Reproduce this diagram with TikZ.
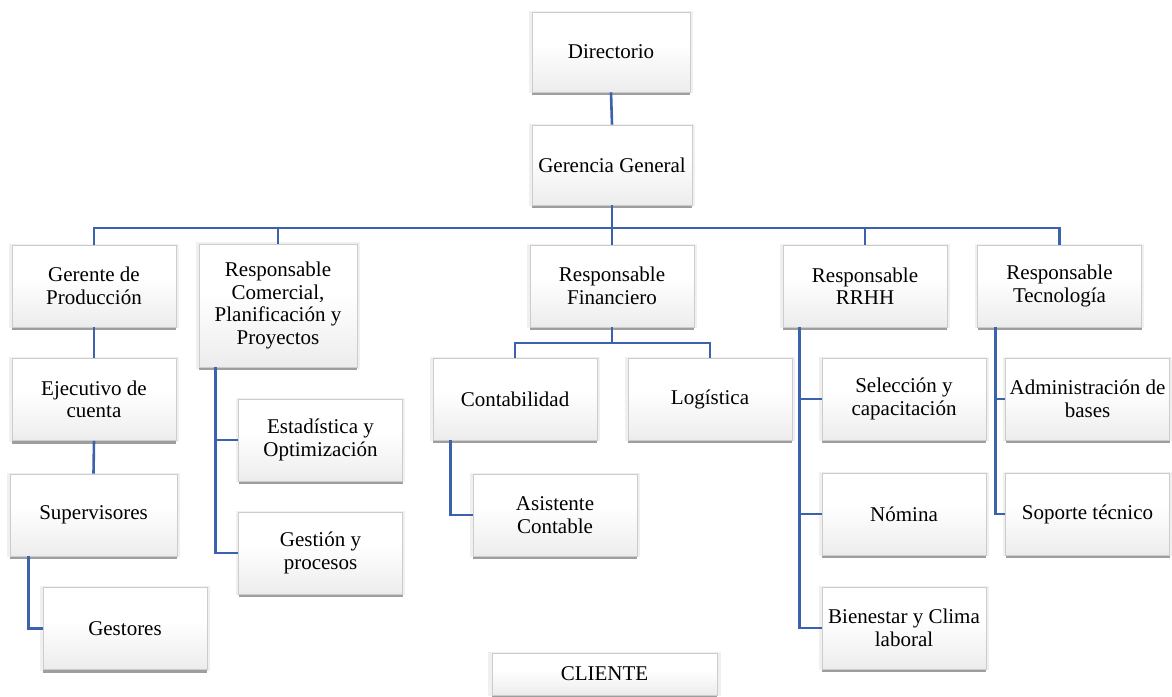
\documentclass[tikz,border=0pt]{standalone}
\usepackage{fontspec}
\setmainfont{Liberation Serif}
\newfontfamily\letracaja{Liberation Serif}
\usepackage{xcolor}
\usetikzlibrary{shadows}
\usetikzlibrary{positioning}
\definecolor{lineaazul}{RGB}{59,98,172}
\pgfdeclareverticalshading{cajagris}{100bp}{color(0bp)=(black!16); color(30bp)=(black!6); color(55bp)=(white); color(100bp)=(white)}
\tikzset{
  caja/.style={rectangle, draw=black!20, line width=0.6pt, shading=cajagris,
    minimum width=164pt, minimum height=82pt, align=center, inner sep=2pt,
    font=\letracaja\fontsize{21}{22.5}\selectfont,
    general shadow={shadow scale=1.035, fill=black!6},
    general shadow={shadow yshift=-3pt, fill=black!38}},
  linea/.style={draw=lineaazul, line width=2.6pt}
}
\begin{document}
\begin{tikzpicture}[x=1pt, y=-1pt]
\useasboundingbox (0,0) rectangle (1172,696);
\coordinate (barra) at (0,228);
\coordinate (fbarra) at (0,343);

\node[caja, minimum width=158pt, minimum height=80pt] (dir) at (611,52) {Directorio};
\node[caja, minimum width=160pt, minimum height=80pt] (gg) at (612,165) {Gerencia General};

\node[caja] (ger) at (94,286) {Gerente de\\Producción};
\node[caja, minimum width=158pt, minimum height=123pt] (com) at (278,305.5) {Responsable\\Comercial,\\Planificación y\\Proyectos};
\node[caja] (fin) at (612,286) {Responsable\\Financiero};
\node[caja] (rrhh) at (865,286) {Responsable\\RRHH};
\node[caja] (tec) at (1059.5,286) {Responsable\\Tecnología};

\node[caja] (eje) at (94,399.5) {Ejecutivo de\\cuenta};
\node[caja, minimum width=167pt] (sup) at (93.5,515) {Supervisores};
\node[caja] (gest) at (125,628.5) {Gestores};

\node[caja] (est) at (320.5,440) {Estadística y\\Optimización};
\node[caja] (gesp) at (320.5,553) {Gestión y\\procesos};

\node[caja] (cont) at (515,399) {Contabilidad};
\node[caja] (log) at (710,399) {Logística};
\node[caja] (asis) at (555,515) {Asistente\\Contable};

\node[caja] (sel) at (904,399) {Selección y\\capacitación};
\node[caja] (nom) at (904,514) {Nómina};
\node[caja] (bien) at (904,628) {Bienestar y Clima\\laboral};

\node[caja] (adm) at (1087.5,399) {Administración de\\bases};
\node[caja] (sop) at (1087.5,514) {Soporte técnico};

\node[caja, minimum width=225pt, minimum height=42pt] (cli) at (604.5,674) {CLIENTE};

\draw[linea] (dir.south) -- (gg.north);
\foreach \n in {ger,com,fin,rrhh,tec}
  \draw[linea] (gg.south) -- (gg.south |- barra) -| (\n.north);

\draw[linea] (ger.south) -- (eje.north);
\draw[linea] (eje.south) -- (sup.north);
\draw[linea] ([xshift=19pt]sup.south west) |- (gest.west);

\draw[linea] ([xshift=17pt]com.south west) |- (est.west);
\draw[linea] ([xshift=17pt]com.south west) |- (gesp.west);

\foreach \n in {cont,log}
  \draw[linea] (fin.south) -- (fin.south |- fbarra) -| (\n.north);
\draw[linea] ([xshift=18pt]cont.south west) |- (asis.west);

\foreach \n in {sel,nom,bien}
  \draw[linea] ([xshift=17pt]rrhh.south west) |- (\n.west);

\foreach \n in {adm,sop}
  \draw[linea] ([xshift=18pt]tec.south west) |- (\n.west);
\end{tikzpicture}
\end{document}
